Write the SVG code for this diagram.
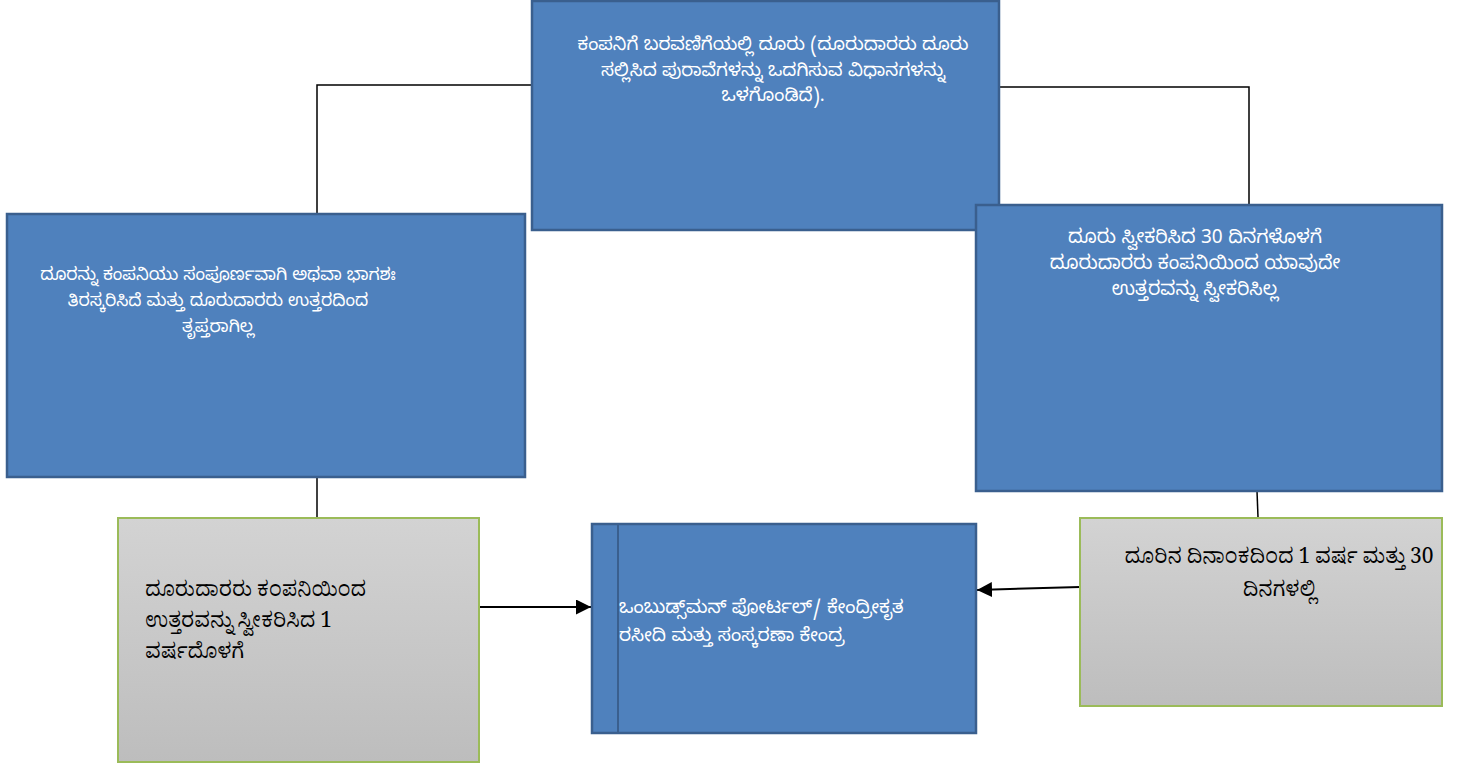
<svg xmlns="http://www.w3.org/2000/svg" width="1461" height="765" viewBox="0 0 1461 765">
<defs>
<linearGradient id="gray" x1="0" y1="0" x2="0" y2="1">
<stop offset="0" stop-color="#D3D3D3"/>
<stop offset="1" stop-color="#BDBDBD"/>
</linearGradient>
<marker id="arr" viewBox="0 0 10 10" refX="10" refY="5" markerWidth="7.5" markerHeight="7.5" markerUnits="strokeWidth" orient="auto">
<path d="M0,0 L10,5 L0,10 z" fill="#000"/>
</marker>
<style>
.blue{fill:#4F81BD;stroke:#3A5F8E;stroke-width:2.5}
.grayb{fill:url(#gray);stroke:#9BBB59;stroke-width:2}
.conn{fill:none;stroke:#000;stroke-width:1.5}
.arrow{fill:none;stroke:#000;stroke-width:2;marker-end:url(#arr)}
.tw{font-family:"Noto Sans Kannada","Noto Sans","DejaVu Sans",sans-serif;font-size:18px;fill:#FFFFFF}
.tb{font-family:"Noto Serif Kannada","Noto Sans Kannada","Liberation Serif","Noto Sans",serif;font-size:21px;fill:#000000}
</style>
</defs>
<rect width="1461" height="765" fill="#FFFFFF"/>
<g id="connectors">
<polyline class="conn" points="532,85 317,85 317,213"/>
<polyline class="conn" points="999,87 1249,87 1249,205"/>
<line class="conn" x1="317" y1="477" x2="317" y2="518"/>
<line class="conn" x1="1257" y1="491" x2="1258" y2="517"/>
<line class="arrow" x1="480" y1="607" x2="591" y2="607"/>
<line class="arrow" x1="1080" y1="587" x2="977" y2="590"/>
</g>
<g id="node-top">
<rect class="blue" x="532" y="1" width="467" height="229"/>
<text class="tw" text-anchor="middle" x="773" style="font-size:18.4px"><tspan x="773" y="50">ಕಂಪನಿಗೆ ಬರವಣಿಗೆಯಲ್ಲಿ ದೂರು (ದೂರುದಾರರು ದೂರು</tspan><tspan x="773" y="76">ಸಲ್ಲಿಸಿದ ಪುರಾವೆಗಳನ್ನು ಒದಗಿಸುವ ವಿಧಾನಗಳನ್ನು</tspan><tspan x="773" y="101">ಒಳಗೊಂಡಿದೆ).</tspan></text>
</g>
<g id="node-left">
<rect class="blue" x="7" y="214" width="518" height="263"/>
<text class="tw" text-anchor="middle" x="218" style="font-size:17.3px"><tspan x="218" y="280">ದೂರನ್ನು ಕಂಪನಿಯು ಸಂಪೂರ್ಣವಾಗಿ ಅಥವಾ ಭಾಗಶಃ</tspan><tspan x="218" y="306">ತಿರಸ್ಕರಿಸಿದೆ ಮತ್ತು ದೂರುದಾರರು ಉತ್ತರದಿಂದ</tspan><tspan x="218" y="332">ತೃಪ್ತರಾಗಿಲ್ಲ</tspan></text>
</g>
<g id="node-right">
<rect class="blue" x="976" y="205" width="466" height="286"/>
<text class="tw" text-anchor="middle" x="1195" style="font-size:19px"><tspan x="1195" y="243">ದೂರು ಸ್ವೀಕರಿಸಿದ 30 ದಿನಗಳೊಳಗೆ</tspan><tspan x="1195" y="269">ದೂರುದಾರರು ಕಂಪನಿಯಿಂದ ಯಾವುದೇ</tspan><tspan x="1195" y="295">ಉತ್ತರವನ್ನು ಸ್ವೀಕರಿಸಿಲ್ಲ</tspan></text>
</g>
<g id="node-bottom-left">
<rect class="grayb" x="118" y="518" width="361" height="244"/>
<text class="tb" x="145"><tspan x="145" y="596">ದೂರುದಾರರು ಕಂಪನಿಯಿಂದ</tspan><tspan x="145" y="627">ಉತ್ತರವನ್ನು ಸ್ವೀಕರಿಸಿದ 1</tspan><tspan x="145" y="658">ವರ್ಷದೊಳಗೆ</tspan></text>
</g>
<g id="node-middle">
<rect class="blue" x="592" y="524" width="384" height="209"/>
<line x1="618" y1="524" x2="618" y2="733" stroke="#3A5F8E" stroke-width="2"/>
<text class="tw" x="619" style="font-size:18.6px"><tspan x="619" y="613">ಒಂಬುಡ್ಸ್‌ಮನ್ ಪೋರ್ಟಲ್/ ಕೇಂದ್ರೀಕೃತ</tspan><tspan x="619" y="641">ರಸೀದಿ ಮತ್ತು ಸಂಸ್ಕರಣಾ ಕೇಂದ್ರ</tspan></text>
</g>
<g id="node-bottom-right">
<rect class="grayb" x="1080" y="518" width="362" height="188"/>
<text class="tb" text-anchor="middle" x="1279" style="font-size:21px"><tspan x="1279" y="563">ದೂರಿನ ದಿನಾಂಕದಿಂದ 1 ವರ್ಷ ಮತ್ತು 30</tspan><tspan x="1279" y="596">ದಿನಗಳಲ್ಲಿ</tspan></text>
</g>
</svg>
